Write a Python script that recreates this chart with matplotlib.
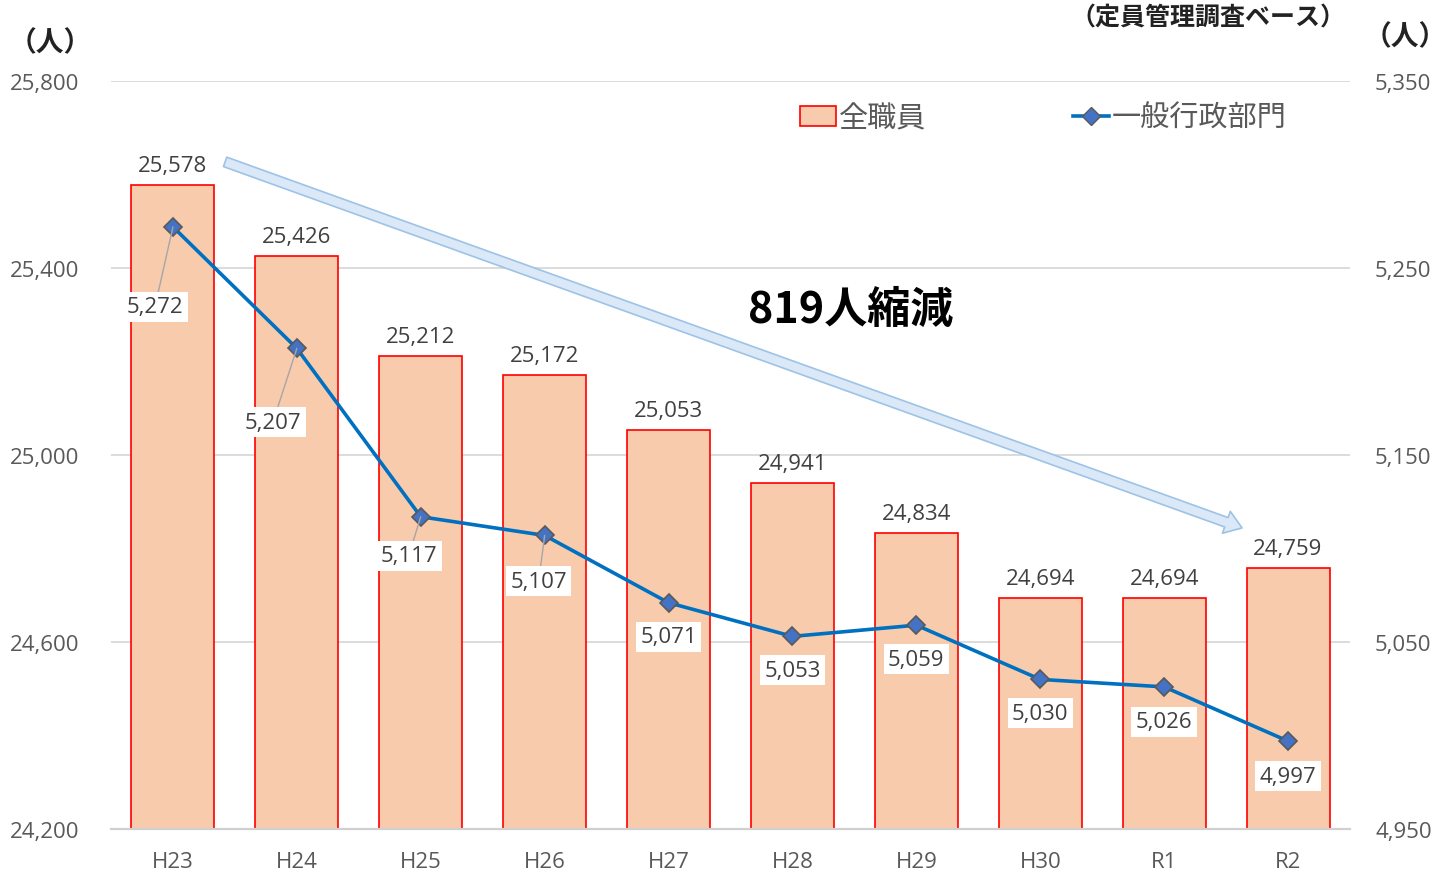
import numpy as np
import matplotlib.pyplot as plt
from matplotlib.patches import Patch
from matplotlib.lines import Line2D

plt.rcParams['font.family'] = ['Noto Sans CJK JP', 'DejaVu Sans']
NUM = ['Open Sans', 'Noto Sans CJK JP']

years = ['H23', 'H24', 'H25', 'H26', 'H27', 'H28', 'H29', 'H30', 'R1', 'R2']
all_staff = [25578, 25426, 25212, 25172, 25053, 24941, 24834, 24694, 24694, 24759]
general = [5272, 5207, 5117, 5107, 5071, 5053, 5059, 5030, 5026, 4997]
left_ticks = [24200, 24600, 25000, 25400, 25800]
right_ticks = [4950, 5050, 5150, 5250, 5350]

# label offsets for the line series (pixels, from the point)
lab_off = [(-18, -80), (-24, -74), (-12, -39), (-6, -46), (0, -34),
           (0, -34), (0, -34), (0, -34), (0, -35), (0, -35)]

W, H = 1453, 879
fig = plt.figure(figsize=(W / 100, H / 100), dpi=100)
ax = fig.add_axes([111 / W, 1 - 830 / H, (1350 - 111) / W, (830 - 82) / H])
ax2 = ax.twinx()

x = np.arange(len(years))
ax.bar(x, np.array(all_staff) - 24200, bottom=24200, width=0.67,
       color='#F8CBAD', edgecolor='#FF0000', linewidth=1.2, zorder=2)
for xi, v in zip(x, all_staff):
    ax.annotate(f'{v:,}', (xi, v), xytext=(0, 9), textcoords='offset pixels',
                ha='center', va='bottom', fontsize=16, color='#404040', family=NUM)

ax.set_xlim(-0.5, 9.5)
ax.set_ylim(24200, 25800)
ax.set_yticks(left_ticks)
ax.set_yticklabels([f'{t:,}' for t in left_ticks], family=NUM)
ax.set_xticks(x)
ax.set_xticklabels(years, family=NUM)
ax.grid(axis='y', color='#d9d9d9', linewidth=1.3, zorder=0)
ax.set_axisbelow(True)
for a in (ax, ax2):
    for s in ['top', 'left', 'right']:
        a.spines[s].set_visible(False)
    a.spines['bottom'].set_color('#d0d0d0')
    a.spines['bottom'].set_linewidth(1.5)
    a.tick_params(length=0, labelsize=16, labelcolor='#595959')
ax.tick_params(axis='y', pad=23)
ax.tick_params(axis='x', pad=16)
ax2.tick_params(axis='y', pad=18)

ax2.plot(x, general, color='#0070C0', linewidth=2.6, marker='D', markersize=9,
         markerfacecolor='#4472C4', markeredgecolor='#595959', markeredgewidth=1.2, zorder=5)
ax2.set_ylim(4950, 5350)
ax2.set_yticks(right_ticks)
ax2.set_yticklabels([f'{t:,}' for t in right_ticks], family=NUM)
for i, (xi, v) in enumerate(zip(x, general)):
    dx, dy = lab_off[i]
    ap = None
    if i < 4:
        ap = dict(arrowstyle='-', color='#a6a6a6', lw=1, shrinkA=0, shrinkB=0)
    ax2.annotate(f'{v:,}', (xi, v), xytext=(dx, dy), textcoords='offset pixels',
                 ha='center', va='center', fontsize=16, color='#404040', family=NUM,
                 bbox=dict(boxstyle='square,pad=0.2', fc='white', ec='none'),
                 arrowprops=ap, zorder=6)

# decrease arrow
ax.annotate('', xy=(8.65, 24842), xytext=(0.4, 25629),
            arrowprops=dict(arrowstyle='simple,head_width=1.4,head_length=1.0,tail_width=0.6',
                            fc='#DAE8F7', ec='#9DC3E6', lw=1.2, mutation_scale=12), zorder=4)
fig.text(851 / W, 1 - 310 / H, '819人縮減', fontsize=31, fontweight='bold',
         ha='center', va='center', color='black')

handles = [Patch(facecolor='#F8CBAD', edgecolor='#FF0000', linewidth=1.2),
           Line2D([], [], color='#0070C0', linewidth=2.6, marker='D', markersize=9,
                  markerfacecolor='#4472C4', markeredgecolor='#595959')]
leg = fig.legend(handles, ['全職員', '一般行政部門'], ncol=2, frameon=False,
                 loc='center left', bbox_to_anchor=(800 / W, 1 - 119 / H),
                 fontsize=21, labelcolor='#595959', columnspacing=5.0,
                 handlelength=1.25, handletextpad=0.1, borderaxespad=0, borderpad=0)

fig.text(50 / W, 1 - 43 / H, '（人）', fontsize=20, fontweight='bold', ha='center',
         va='center', color='#222222')
fig.text(1405 / W, 1 - 37 / H, '（人）', fontsize=20, fontweight='bold', ha='center',
         va='center', color='#222222')
fig.text(1345 / W, 1 - 18 / H, '（定員管理調査ベース）', fontsize=18, fontweight='bold',
         ha='right', va='center', color='#222222')

fig.savefig('out.png', dpi=100)
